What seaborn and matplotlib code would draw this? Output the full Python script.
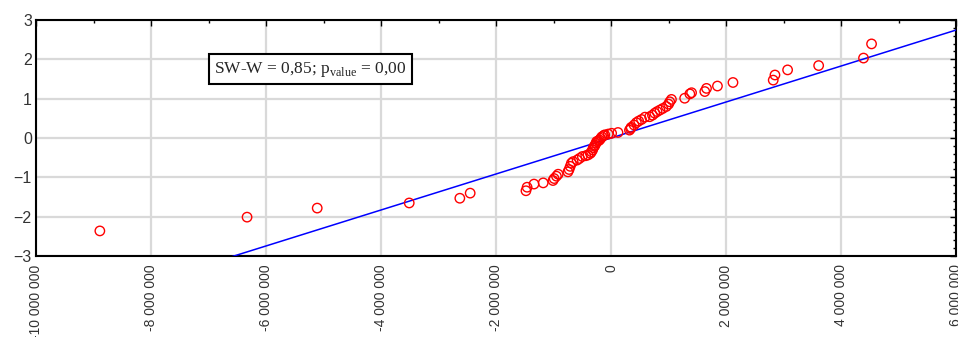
import matplotlib
matplotlib.use("Agg")
import matplotlib.pyplot as plt
import matplotlib.ticker as mticker
import numpy as np
import pandas as pd
import seaborn as sns

# observed residuals (millions) and their expected normal values
obs_mln = [-8.89, -6.33, -5.11, -3.51, -2.63, -2.45, -1.48, -1.46, -1.34, -1.18,
           -1.01, -0.99, -0.95, -0.92, -0.75, -0.73, -0.71, -0.69, -0.66, -0.59,
           -0.55, -0.50, -0.44, -0.40, -0.36, -0.34, -0.32, -0.31, -0.29, -0.28,
           -0.26, -0.25, -0.22, -0.20, -0.18, -0.16, -0.13, -0.11, -0.05, 0.01,
           0.12, 0.32, 0.34, 0.35, 0.40, 0.44, 0.48, 0.53, 0.59, 0.67,
           0.72, 0.76, 0.80, 0.85, 0.90, 0.96, 1.00, 1.02, 1.05, 1.28,
           1.37, 1.40, 1.63, 1.66, 1.85, 2.12, 2.82, 2.85, 3.07, 3.61,
           4.39, 4.53]
expected = [-2.36, -2.01, -1.78, -1.65, -1.53, -1.40, -1.34, -1.25, -1.17, -1.14,
            -1.08, -1.03, -0.97, -0.92, -0.86, -0.80, -0.72, -0.64, -0.60, -0.56,
            -0.52, -0.47, -0.45, -0.43, -0.39, -0.35, -0.30, -0.25, -0.21, -0.18,
            -0.13, -0.09, -0.07, -0.05, -0.01, 0.03, 0.06, 0.08, 0.10, 0.12,
            0.14, 0.20, 0.24, 0.27, 0.33, 0.39, 0.43, 0.47, 0.53, 0.54,
            0.58, 0.63, 0.67, 0.71, 0.75, 0.80, 0.86, 0.92, 0.98, 1.01,
            1.12, 1.15, 1.18, 1.26, 1.32, 1.41, 1.47, 1.60, 1.73, 1.84,
            2.03, 2.39]

# reference line
slope = 0.457e-6
intercept = 0.0

sw_text = "SW-W = 0,85; p$_{\\mathrm{value}}$ = 0,00"

x_lim = (-10e6, 6e6)
y_lim = (-3, 3)

df = pd.DataFrame({"obs": np.array(obs_mln) * 1e6, "exp": expected})

sns.set_style("whitegrid")
plt.rcParams["font.family"] = ["Liberation Sans", "DejaVu Sans"]
plt.rcParams["mathtext.fontset"] = "custom"
plt.rcParams["mathtext.rm"] = "Liberation Serif"

fig = plt.figure(figsize=(9.58, 3.37), dpi=100)
ax = fig.add_axes([0.0376, 0.24, 0.9604, 0.701])

line_x = np.array(x_lim)
sns.lineplot(x=line_x, y=slope * line_x + intercept, color="#0000ff", lw=1.1, ax=ax, zorder=3)
sns.scatterplot(data=df, x="obs", y="exp", ax=ax, s=46, facecolors="none",
                edgecolor="#ff0000", linewidth=1.0, zorder=4)

ax.set_xlim(*x_lim)
ax.set_ylim(*y_lim)
ax.set_xlabel("")
ax.set_ylabel("")

ax.xaxis.set_major_locator(mticker.MultipleLocator(2e6))
ax.xaxis.set_minor_locator(mticker.MultipleLocator(1e6))
ax.yaxis.set_major_locator(mticker.MultipleLocator(1))
ax.yaxis.set_minor_locator(mticker.MultipleLocator(0.2))
ax.xaxis.set_major_formatter(mticker.FuncFormatter(lambda v, p: f"{int(round(v)):,}".replace(",", " ")))

ax.grid(True, which="major", color="#d9d9d9", lw=1.6)
ax.grid(False, which="minor")
for s in ax.spines.values():
    s.set_color("black")
    s.set_linewidth(1.5)

ax.tick_params(axis="both", which="both", direction="in", top=True, right=True,
               colors="black", labelcolor="#333333")
ax.tick_params(axis="both", which="major", length=4, width=1)
ax.tick_params(axis="both", which="minor", length=2, width=1)
ax.tick_params(axis="x", labelsize=10, labelrotation=90, pad=6)
ax.tick_params(axis="y", labelsize=11.5, pad=3)

ax.text(-5.23e6, 1.75, sw_text, family="Liberation Serif", fontsize=12.5,
        ha="center", va="center", zorder=5,
        bbox=dict(boxstyle="square,pad=0.3", fc="white", ec="black", lw=1.5))

fig.savefig("out.png", dpi=100)
